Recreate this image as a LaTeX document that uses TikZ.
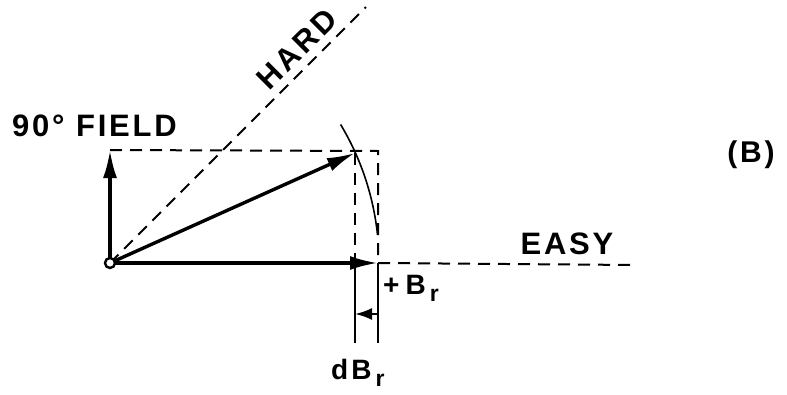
\documentclass[tikz,border=0pt]{standalone}
\usepackage{fontspec}
\setmainfont{Liberation Sans}[LetterSpace=9]
\usetikzlibrary{arrows.meta,calc}
\begin{document}
\begin{tikzpicture}[x=1pt,y=-1pt,
  vec/.style={line width=3.4pt,-{Latex[length=28pt,width=14pt]}},
  guide/.style={line width=2pt,dash pattern=on 12pt off 8pt},
  rule/.style={line width=2.2pt},
  lab/.style={font=\bfseries\fontsize{31}{31}\selectfont,inner sep=0pt},
  sublab/.style={font=\bfseries\fontsize{28}{28}\selectfont,inner sep=0pt}]
\useasboundingbox (0,0) rectangle (787,394);
\coordinate (O) at (110,263);
\coordinate (F) at (110,150);
\coordinate (R) at (355,153);
\coordinate (E) at (378,263);
\coordinate (C) at (378,151);
\coordinate (RB) at (355,263);
\coordinate (Ee) at (636,265);
\coordinate (H) at ($(O)+(-45:362)$);
\coordinate (L1) at (355,343);
\coordinate (L2) at (378,343);
\coordinate (A1) at (378,314);
\coordinate (A2) at (355,314);
% dashed guides
\draw[guide] (F) -- (C) -- (E);
\draw[guide] (R) -- (RB);
\draw[guide] (E) -- (Ee);
\draw[guide] (O) -- (H);
% arc
\draw[line width=1.6pt] ($(O)+(-31:269)$) arc[start angle=-31,end angle=-6,radius=269];
% vectors
\draw[vec] (O) -- (F);
\draw[vec] (O) -- (R);
\draw[vec] (O) -- (E);
% dB_r lines
\draw[rule] (RB) -- (L1);
\draw[rule] (E) -- (L2);
\draw[rule,-{Latex[length=17pt,width=12pt]}] (A1) -- (A2);
\node[circle,draw,fill=white,line width=2.4pt,minimum size=10pt,inner sep=0pt] (Oc) at (O) {};
% labels
\node[lab,anchor=base west] (field) at (12,136) {90° FIELD};
\node[lab,rotate=45] (hard) at (297,49) {HARD};
\node[lab] (easy) at (567,244) {EASY};
\node[font=\bfseries\fontsize{30}{30}\selectfont,inner sep=0pt] (b) at (751,155) {(B)};
\node[sublab,anchor=base west] (br) at (383,294) {+\kern6pt B\kern4pt\raisebox{-7pt}{\fontsize{23}{23}\selectfont r}};
\node[sublab,anchor=base west] (dbr) at (331,379) {d\kern3pt B\kern4pt\raisebox{-7pt}{\fontsize{23}{23}\selectfont r}};
\end{tikzpicture}
\end{document}
